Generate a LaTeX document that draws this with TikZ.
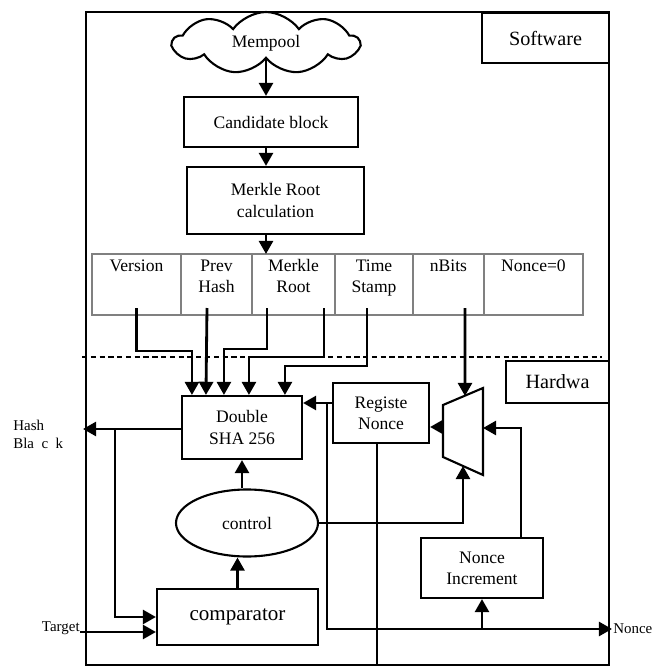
\documentclass[tikz,border=0pt]{standalone}
\usepackage{fontspec}
\setmainfont{Liberation Serif}
\usetikzlibrary{positioning,calc,shapes.symbols,shapes.geometric,arrows.meta}
\newcommand{\pxu}{0.02cm}

\begin{document}
\begin{tikzpicture}[x=\pxu, y=-\pxu, font=\fontsize{10}{12}\selectfont]
        \tikzstyle{rect} = [draw, rectangle, line width=1.2pt, align=center, inner sep=2pt]
        \tikzstyle{cell} = [draw=gray, rectangle, line width=0.7pt, minimum height=61*\pxu, outer sep=0pt]
        \tikzstyle{celltext} = [anchor=north, align=center, inner sep=3pt]
        \tikzstyle{wire} = [line width=1.6pt, -{Triangle[length=7.5pt,width=8pt]}]
        \tikzstyle{small} = [font=\fontsize{8.5}{10.2}\selectfont, inner sep=0pt]
        \useasboundingbox (0,0) rectangle (663,666);
        % frame and the software / hardware split
        \draw[line width=0.9pt] (86,12) rectangle (609,665);
        \coordinate (fsw) at (86,665);
        \draw[line width=0.7pt, dash pattern=on 3pt off 2pt] (82,357) -- (602,357);
        % software side
        \node (sw) [rect, minimum width=127*\pxu, minimum height=50*\pxu, font=\fontsize{11.5}{13}\selectfont] at (545.5,38) {Software};
        \node (mempool) [draw, cloud, cloud puffs=9, cloud puff arc=110, aspect=3.2, line width=1.2pt, minimum width=186*\pxu, minimum height=62*\pxu] at (266,43) {Mempool};
        \node (cand) [rect, minimum width=174*\pxu, minimum height=50*\pxu] at (271,122) {Candidate block};
        \node (mrc) [rect, minimum width=177*\pxu, minimum height=67*\pxu] at (275.5,200.5) {Merkle Root\\calculation};
        \node (ver) [cell, minimum width=89*\pxu] at (136.5,284.5) {};
        \node (prev) [cell, minimum width=71*\pxu, right=0pt of ver] {};
        \node (mroot) [cell, minimum width=83*\pxu, right=0pt of prev] {};
        \node (tstamp) [cell, minimum width=78*\pxu, right=0pt of mroot] {};
        \node (nbits) [cell, minimum width=71*\pxu, right=0pt of tstamp] {};
        \node (nonce0) [cell, minimum width=99*\pxu, right=0pt of nbits] {};
        \node (vertext) [celltext] at (ver.north) {Version};
        \node (prevtext) [celltext] at (prev.north) {Prev\\Hash};
        \node (mroottext) [celltext] at (mroot.north) {Merkle\\Root};
        \node (tstamptext) [celltext] at (tstamp.north) {Time\\Stamp};
        \node (nbitstext) [celltext] at (nbits.north) {nBits};
        \node (nonce0text) [celltext] at (nonce0.north) {Nonce=0};
        % hardware side
        \node (hw) [rect, minimum width=103*\pxu, minimum height=42*\pxu, font=\fontsize{11.5}{13}\selectfont] at (557.5,382) {Hardwa};
        \node (sha) [rect, minimum width=120*\pxu, minimum height=63*\pxu] at (242,427.5) {Double\\SHA 256};
        \node (reg) [rect, minimum width=96*\pxu, minimum height=60*\pxu] at (381,413) {Registe\\Nonce};
        \node (ctrl) [draw, ellipse, line width=1.2pt, minimum width=142*\pxu, minimum height=67*\pxu] at (247,523) {control};
        \node (cmp) [rect, minimum width=161*\pxu, minimum height=56*\pxu, font=\fontsize{12}{14}\selectfont] at (237.5,617) {comparator};
        \node (ninc) [rect, minimum width=122*\pxu, minimum height=60*\pxu] at (482,568) {Nonce\\Increment};
        \node (hashlbl) [small, anchor=west, align=left] at (13,434) {Hash\\Bla~~c~~k};
        \node (target) [small, anchor=east] at (80,628) {Target};
        \node (nonceout) [small, anchor=west] at (613,629) {Nonce};
        % mux
        \draw[line width=1.2pt] (443,405) -- (483,388) -- (483,475) -- (443,457) -- cycle;
        \coordinate (muxtop) at (465,396);
        \coordinate (muxsel) at (463,466);
        \coordinate (muxin) at (483,428);
        \coordinate (muxout) at (443,427);
        % software flow
        \draw[wire] (mempool.south) -- (mempool.south |- cand.north);
        \draw[wire] (cand.south -| mempool.south) -- (mrc.north -| mempool.south);
        \draw[wire] (mrc.south -| mempool.south) -- (mroot.north -| mempool.south);
        % header fields into the hash
        \draw[wire] ($(ver.south)+(0,-7)$) |- ($(sha.north west)+(11,-44)$) -- ($(sha.north west)+(11,0)$);
        \draw[wire] ($(prev.south)+(-9.5,-7)$) -- ($(sha.north west)+(25,0)$);
        \draw[wire] ($(mroot.south)+(-26.5,-7)$) |- ($(sha.north west)+(43,-46)$) -- ($(sha.north west)+(43,0)$);
        \draw[wire] ($(mroot.south)+(30.5,-7)$) |- ($(sha.north west)+(68,-38)$) -- ($(sha.north west)+(68,0)$);
        \draw[wire] ($(tstamp.south)+(-7,-7)$) |- ($(sha.north west)+(104,-29)$) -- ($(sha.north west)+(104,0)$);
        \draw[wire] ($(nbits.south)+(16.5,-7)$) -- (muxtop);
        % nonce loop
        \coordinate (regout) at ($(reg.west)+(0,-10)$);
        \coordinate (nbr) at ($(regout)+(-5,0)$);
        \coordinate (regdn) at ($(reg.south)+(-4,0)$);
        \draw[wire] (regout) -- (regout -| sha.east);
        \draw[wire] (nbr) |- ($(nonceout.west)+(-1,0)$);
        \draw[wire] (ninc.south |- nonceout.west) -- (ninc.south);
        \draw[wire] ($(ninc.north)+(39,0)$) |- (muxin);
        \draw[wire] (muxout) -- (muxout -| reg.east);
        \draw[line width=1.6pt] (regdn) -- (regdn |- fsw);
        % control and compare
        \draw[wire] (ctrl.east) -| (muxsel);
        \draw[wire] (sha.south |- ctrl.north) -- (sha.south);
        \draw[wire] (cmp.north) -- (cmp.north |- ctrl.south);
        \coordinate (hashend) at (83,429);
        \coordinate (hbr) at (115,429);
        \draw[wire] (sha.west |- hashend) -- (hashend);
        \draw[wire] (hbr) |- (cmp.west);
        \draw[wire] ($(target.east)+(0,4)$) -- ($(cmp.west)+(0,15)$);
    \end{tikzpicture}
\end{document}
